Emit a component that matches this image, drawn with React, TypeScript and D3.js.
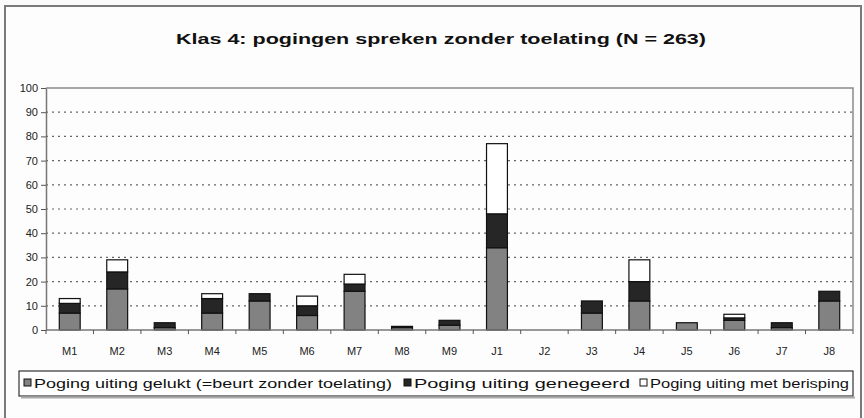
import { useEffect, useRef } from "react";
import * as d3 from "d3";

// categories and series
const categories = ["M1", "M2", "M3", "M4", "M5", "M6", "M7", "M8", "M9", "J1", "J2", "J3", "J4", "J5", "J6", "J7", "J8"];
const gelukt = [7, 17, 1, 7, 12, 6, 16, 1, 2, 34, 0, 7, 12, 3, 4, 1, 12];
const genegeerd = [4, 7, 2, 6, 3, 4, 3, 0.5, 2, 14, 0, 5, 8, 0, 1, 2, 4];
const berisping = [2, 5, 0, 2, 0, 4, 4, 0, 0, 29, 0, 0, 9, 0, 1.5, 0, 0];
const yTicks = [0, 10, 20, 30, 40, 50, 60, 70, 80, 90, 100];

const seriesNames = [
  "Poging uiting gelukt (=beurt zonder toelating)",
  "Poging uiting genegeerd",
  "Poging uiting met berisping",
];
const seriesColors = ["#828282", "#262626", "#ffffff"];

const W = 864;
const H = 418;

export default function App() {
  const ref = useRef<SVGSVGElement | null>(null);

  useEffect(() => {
    if (!ref.current) return;
    const svg = d3.select(ref.current);
    svg.selectAll("*").remove();

    const margin = { top: 88, right: 11, bottom: 88, left: 46 };
    const font = "'Liberation Sans', Arial, sans-serif";

    svg.append("rect").attr("width", W).attr("height", H).attr("fill", "#fbfbfb");
    // outer chart border
    svg.append("rect")
      .attr("x", 5).attr("y", 6).attr("width", W - 8).attr("height", H + 4)
      .attr("fill", "#fdfdfd").attr("stroke", "#7a7a7a").attr("stroke-width", 2);

    svg.append("text")
      .attr("x", 441).attr("y", 44)
      .attr("text-anchor", "middle")
      .attr("font-family", font).attr("font-weight", "bold").attr("font-size", 15)
      .attr("textLength", 530).attr("lengthAdjust", "spacingAndGlyphs")
      .attr("fill", "#111")
      .text("Klas 4: pogingen spreken zonder toelating (N = 263)");

    const x = d3.scaleBand()
      .domain(categories)
      .range([margin.left, W - margin.right])
      .paddingInner(0.56)
      .paddingOuter(0.28);

    const y = d3.scaleLinear().domain([0, 100]).range([H - margin.bottom, margin.top]);

    const g = svg.append("g");

    // gridlines
    g.selectAll("line.grid")
      .data(yTicks.filter((t) => t > 0 && t < 100))
      .join("line")
      .attr("x1", margin.left).attr("x2", W - margin.right)
      .attr("y1", (d) => y(d)).attr("y2", (d) => y(d))
      .attr("stroke", "#666").attr("stroke-width", 1.2)
      .attr("stroke-dasharray", "2,4");

    // plot border top and right
    g.append("path")
      .attr("d", `M${margin.left},${y(100)}H${W - margin.right}V${y(0)}`)
      .attr("fill", "none").attr("stroke", "#8a8a8a").attr("stroke-width", 1.5);

    // stacked bars
    const rows = categories.map((c, i) => ({ cat: c, a: gelukt[i], b: genegeerd[i], c2: berisping[i] }));
    const stack = d3.stack<any>().keys(["a", "b", "c2"]);
    const layers = stack(rows);

    layers.forEach((layer, li) => {
      g.selectAll(`rect.s${li}`)
        .data(layer.filter((d) => d[1] - d[0] > 0))
        .join("rect")
        .attr("x", (d) => x(d.data.cat) as number)
        .attr("width", x.bandwidth())
        .attr("y", (d) => y(d[1]))
        .attr("height", (d) => y(d[0]) - y(d[1]))
        .attr("fill", seriesColors[li])
        .attr("stroke", "#111").attr("stroke-width", 1.2);
    });

    // y axis
    const yAxis = d3.axisLeft(y).tickValues(yTicks).tickSize(5).tickSizeOuter(0);
    const ya = g.append("g").attr("transform", `translate(${margin.left},0)`).call(yAxis);
    ya.select(".domain").attr("stroke", "#777").attr("stroke-width", 1.5);
    ya.selectAll(".tick line").attr("stroke", "#555");
    ya.selectAll(".tick text")
      .attr("font-family", font).attr("font-size", 11).attr("fill", "#222").attr("x", -8);

    // x axis with ticks between categories
    const step = x.step();
    const boundaries = d3.range(categories.length + 1).map((i) => margin.left + i * step);
    g.append("line")
      .attr("x1", margin.left).attr("x2", W - margin.right)
      .attr("y1", y(0)).attr("y2", y(0))
      .attr("stroke", "#777").attr("stroke-width", 1.5);
    g.selectAll("line.xtick")
      .data(boundaries)
      .join("line")
      .attr("x1", (d) => d).attr("x2", (d) => d)
      .attr("y1", y(0)).attr("y2", y(0) + 4)
      .attr("stroke", "#555");
    g.selectAll("text.xl")
      .data(categories)
      .join("text")
      .attr("x", (d) => (x(d) as number) + x.bandwidth() / 2)
      .attr("y", y(0) + 25)
      .attr("text-anchor", "middle")
      .attr("font-family", font).attr("font-size", 11).attr("fill", "#222")
      .text((d) => d);

    // legend
    const lg = svg.append("g");
    lg.append("rect")
      .attr("x", 19).attr("y", 371).attr("width", 834).attr("height", 25)
      .attr("fill", "#fff").attr("stroke", "#333").attr("stroke-width", 1.2);
    lg.append("line")
      .attr("x1", 21).attr("x2", 855).attr("y1", 397.5).attr("y2", 397.5)
      .attr("stroke", "#aaa").attr("stroke-width", 2);
    const legendX = [24, 404, 640];
    const legendLen = [358, 216, 199];
    seriesNames.forEach((name, i) => {
      lg.append("rect")
        .attr("x", legendX[i]).attr("y", 379).attr("width", 7).attr("height", 7)
        .attr("fill", seriesColors[i]).attr("stroke", "#111").attr("stroke-width", 1);
      lg.append("text")
        .attr("x", legendX[i] + 10).attr("y", 387.5)
        .attr("font-family", font).attr("font-size", 12).attr("fill", "#111")
        .attr("textLength", legendLen[i]).attr("lengthAdjust", "spacingAndGlyphs")
        .text(name);
    });
  }, []);

  return (
    <div style={{ position: "fixed", left: 0, top: 0 }}>
      <svg ref={ref} width={W} height={H} />
    </div>
  );
}
